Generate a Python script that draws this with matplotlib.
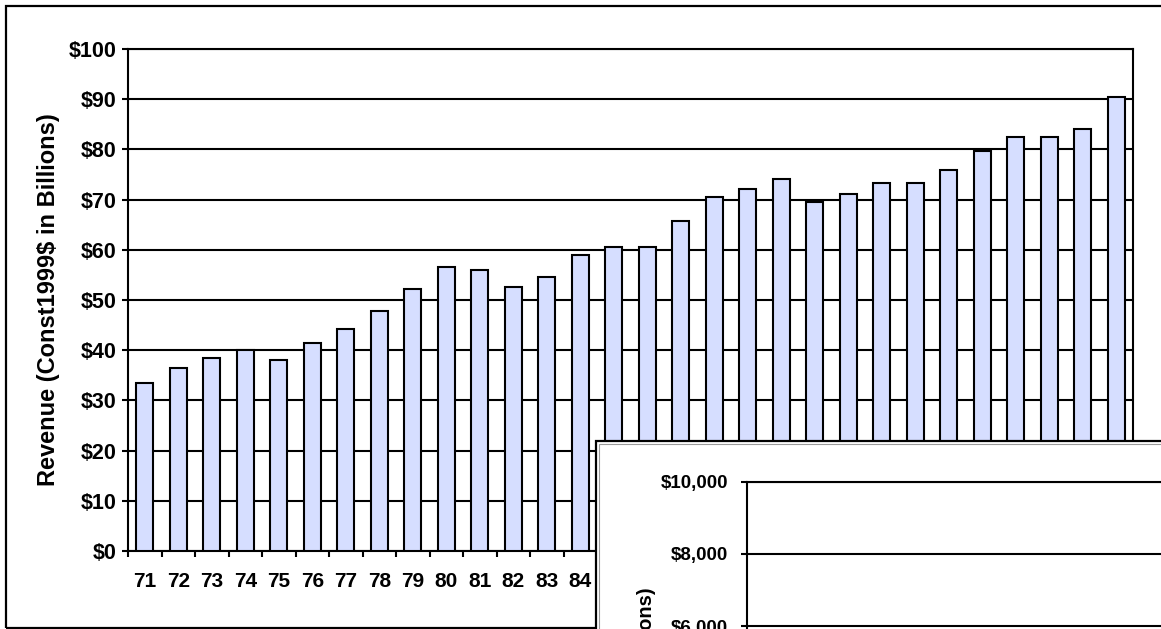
import matplotlib
matplotlib.use("Agg")
import matplotlib.pyplot as plt
from matplotlib.patches import Rectangle
from matplotlib.ticker import FixedLocator, FuncFormatter

# revenue in constant 1999 dollars, billions
years = ["71", "72", "73", "74", "75", "76", "77", "78", "79", "80",
         "81", "82", "83", "84", "85", "86", "87", "88", "89", "90",
         "91", "92", "93", "94", "95", "96", "97", "98", "99", "00"]
revenue = [33.5, 36.4, 38.4, 40.0, 38.0, 41.5, 44.3, 47.9, 52.2, 56.6,
           55.9, 52.6, 54.6, 59.0, 60.6, 60.6, 65.8, 70.5, 72.2, 74.2,
           69.5, 71.1, 73.4, 73.4, 75.8, 79.7, 82.5, 82.5, 84.1, 90.4]
y_ticks = [0, 10, 20, 30, 40, 50, 60, 70, 80, 90, 100]
inset_ticks = [0, 2000, 4000, 6000, 8000, 10000]

plt.rcParams['font.family'] = ['Liberation Sans', 'DejaVu Sans']
plt.rcParams['font.weight'] = 'bold'

W, H = 1161, 629
fig = plt.figure(figsize=(W / 100, H / 100), dpi=100)
fig.patch.set_facecolor('white')

# outer chart frame
fig.patches.append(Rectangle((6 / W, 1 / H), 1.2, (628 - 6) / H,
                             transform=fig.transFigure, facecolor='none',
                             edgecolor='black', linewidth=1.6, zorder=0))

ax = fig.add_axes([128 / W, 1 - 551 / H, 1005 / W, 502 / H])
x = list(range(len(years)))
ax.bar(x, revenue, width=0.5, color='#D6DEFF', edgecolor='black',
       linewidth=1.5, zorder=3)

ax.set_xlim(-0.5, len(years) - 0.5)
ax.set_ylim(0, 100)
ax.set_yticks(y_ticks)
ax.yaxis.set_major_formatter(FuncFormatter(lambda v, p: f"${v:.0f}"))
ax.yaxis.grid(True, color='black', linewidth=1.5, zorder=1)
ax.set_axisbelow(True)

# tick marks sit between the bars, labels under the bars
ax.xaxis.set_major_locator(FixedLocator([i - 0.5 for i in range(len(years) + 1)]))
ax.xaxis.set_major_formatter(FuncFormatter(lambda v, p: ""))
ax.xaxis.set_minor_locator(FixedLocator(x))
ax.set_xticklabels(years, minor=True)
ax.tick_params(axis='x', which='major', direction='out', length=4,
               width=1.5, color='black')
ax.tick_params(axis='x', which='minor', length=0, pad=15, labelsize=15)
ax.tick_params(axis='y', direction='out', length=4, width=1.5, pad=4,
               labelsize=15.5)
for s in ax.spines.values():
    s.set_linewidth(1.5)
    s.set_color('black')

ax.set_ylabel("Revenue (Const1999$ in Billions)", fontsize=17,
              fontweight='bold')
ax.yaxis.set_label_coords(-0.068, 0.5)

# second chart panel laid over the lower right corner
fig.patches.append(Rectangle((596 / W, -0.5), 1.0, 0.5 + 1 - 441 / H,
                             transform=fig.transFigure, facecolor='white',
                             edgecolor='black', linewidth=1.6, zorder=1))
fig.patches.append(Rectangle((599 / W, -0.5), 1.0, 0.5 + 1 - 444 / H,
                             transform=fig.transFigure, facecolor='none',
                             edgecolor='#9a9a9a', linewidth=0.8, zorder=1.1))

ax2 = fig.add_axes([747 / W, 1 - 842 / H, 700 / W, 360 / H], zorder=2)
ax2.set_facecolor('white')
ax2.set_ylim(0, 10000)
ax2.set_xlim(0, 1)
ax2.set_yticks(inset_ticks)
ax2.yaxis.set_major_formatter(FuncFormatter(lambda v, p: f"${v:,.0f}"))
ax2.yaxis.grid(True, color='black', linewidth=1.5)
ax2.set_xticks([])
ax2.tick_params(axis='y', direction='out', length=4.5, width=1.5, pad=9,
                labelsize=13.5)
for s in ax2.spines.values():
    s.set_linewidth(1.5)
    s.set_color('black')

fig.text(646 / W, 1 - 587 / H, "Revenue (Const1999$ in Millions)",
         rotation=90, ha='center', va='top', fontsize=14.5, fontweight='bold',
         zorder=5)

fig.savefig("out.png", dpi=100)
